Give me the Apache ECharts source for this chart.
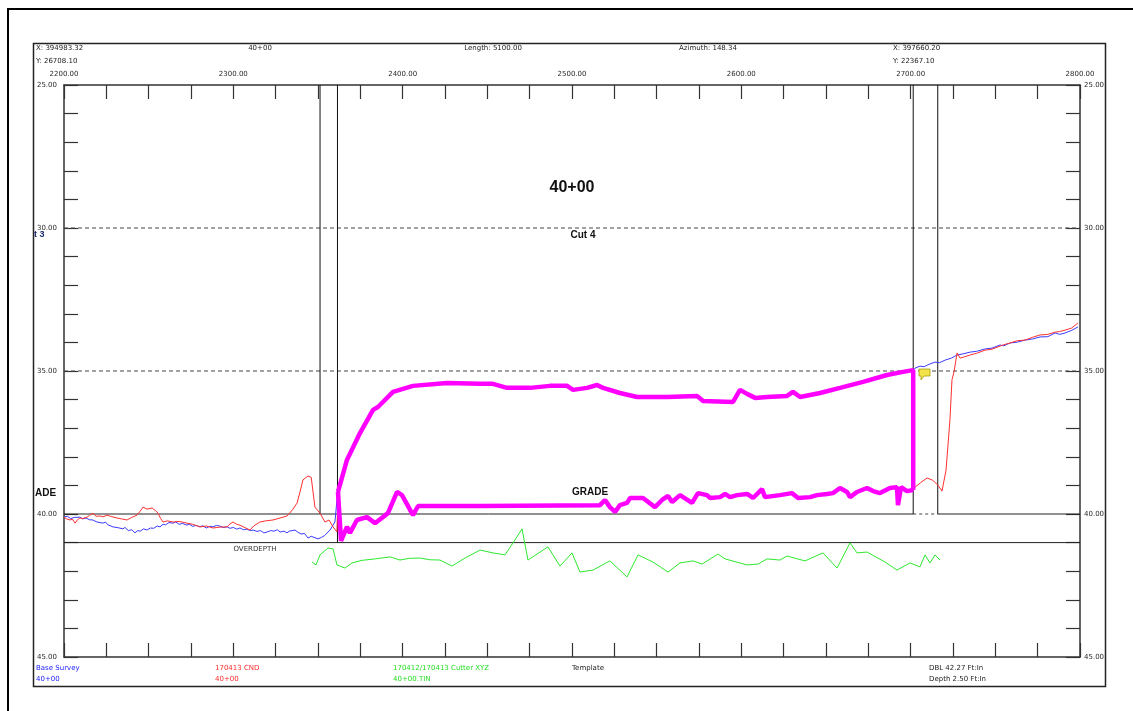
<!DOCTYPE html>
<html>
<head>
<meta charset="utf-8">
<script src="https://cdn.jsdelivr.net/npm/echarts@6/dist/echarts.min.js"></script>
<style>
html,body{margin:0;padding:0;background:#fff;}
#chart{width:1133px;height:711px;}
</style>
</head>
<body>
<div id="chart"></div>
<script>
// ---------- data (station, elevation) ----------
const baseSurveyLeft = [
  [2200,40.11],[2202,40.08],[2204,40.16],[2206,40.12],[2209.4,40.11],[2211,40.17],[2213,40.14],[2215,40.2],[2217.1,40.21],
  [2219,40.27],[2220,40.22],[2223,40.32],[2224.5,40.28],[2226,40.38],[2228.9,40.45],[2230,40.41],[2232,40.48],
  [2234.8,40.52],[2236,40.47],[2238,40.58],[2240,40.55],[2241.9,40.66],[2243.5,40.58],[2245,40.6],[2247,40.52],
  [2249,40.56],[2251,40.49],[2253,40.5],[2255,40.42],[2256.7,40.45],[2258.5,40.36],[2260,40.38],[2262,40.3],
  [2264.4,40.32],[2266,40.28],[2268,40.36],[2270,40.33],[2272.6,40.39],[2274,40.36],[2276,40.43],[2278,40.4],
  [2280.3,40.45],[2282,40.41],[2284,40.49],[2286,40.43],[2288,40.45],[2290,40.4],[2292,40.42],[2294,40.47],
  [2296.3,40.45],[2298,40.5],[2300,40.47],[2302,40.53],[2303.9,40.49],[2306,40.55],[2308,40.53],[2310,40.58],
  [2311.6,40.56],[2314,40.61],[2316,40.58],[2318,40.66],[2319.9,40.63],[2322,40.58],[2324,40.6],[2326,40.55],
  [2327.6,40.63],[2330,40.6],[2331.7,40.66],[2333,40.6],[2334,40.62],[2336.4,40.56],[2338,40.63],[2340,40.7],
  [2342,40.68],[2344.1,40.84],[2346,40.78],[2347,40.8],[2350,40.87],[2352,40.82],[2354,40.75],[2357.1,40.56],
  [2360,40.28],[2361.2,39.51]
];
const baseSurveyRight = [
  [2702.6,34.9],[2705.5,34.83],[2708,34.85],[2710,34.79],[2712,34.74],[2714.4,34.69],[2717,34.71],[2720.3,34.62],
  [2724,34.55],[2727.4,34.44],[2731,34.4],[2735.1,34.34],[2739,34.31],[2743.9,34.23],[2748,34.2],[2752.8,34.09],
  [2755,34.12],[2758.7,34.02],[2763,33.99],[2767.5,33.92],[2772,33.88],[2776.4,33.81],[2781,33.8],[2785.3,33.67],
  [2788,33.72],[2791.2,33.67],[2795,33.58],[2798.8,33.46]
];
const cndLeft = [
  [2200,40.11],[2201.5,40.17],[2203.5,40.21],[2205,40.18],[2206.5,40.32],[2208,40.2],[2209.4,40.14],[2211,40.16],
  [2213.6,40.11],[2215,40.05],[2217.1,39.97],[2219,40.08],[2221.3,40.07],[2223,40.1],[2225.4,40.04],[2228,40.09],
  [2231.3,40.14],[2234,40.17],[2237.2,40.21],[2240,40.12],[2243.1,40.04],[2245,39.9],[2246.7,39.76],[2249,39.83],
  [2252,39.79],[2254,39.88],[2255.5,39.97],[2257,40.15],[2258.5,40.28],[2261,40.24],[2264.4,40.28],[2268,40.26],
  [2272.6,40.32],[2276,40.36],[2280.3,40.45],[2284,40.42],[2288,40.49],[2292,40.46],[2296.3,40.45],[2298,40.35],
  [2299.8,40.28],[2302,40.36],[2303.9,40.39],[2307,40.48],[2309.8,40.56],[2312,40.42],[2315.7,40.28],[2319,40.24],
  [2323.4,40.21],[2327,40.15],[2331.7,40.07],[2335,39.85],[2337.6,39.62],[2339.5,39.2],[2341.1,38.81],[2344.1,38.67],
  [2346,38.72],[2347,38.74],[2348.2,39.76],[2351.2,39.97],[2354.1,40.28],[2356.5,40.21],[2358.9,40.45],[2361.2,40.63]
];
const cndRight = [
  [2702.6,39.06],[2706,38.9],[2709.7,38.74],[2713,38.82],[2716.1,38.99],[2718.5,39.2],[2720.9,38.46],[2723.2,36.71],
  [2724.4,35.31],[2725.6,35.03],[2727.4,34.37],[2729.2,34.55],[2732,34.5],[2735.1,34.44],[2739,34.38],[2743.9,34.27],
  [2748,34.24],[2752.8,34.13],[2755,34.08],[2758.7,34.02],[2763,33.94],[2767.5,33.92],[2772,33.82],[2776.4,33.74],
  [2781,33.72],[2785.3,33.64],[2788,33.62],[2791.2,33.57],[2795,33.5],[2798.8,33.32]
];
const templateTop = [
  [2361.8,39.23],[2367.1,38.11],[2374.8,37.17],[2382.5,36.36],[2385.4,36.26],[2394.3,35.73],[2406.1,35.52],
  [2426.2,35.42],[2445.7,35.45],[2453.3,35.45],[2461.6,35.59],[2475.2,35.59],[2487,35.52],[2497.1,35.52],
  [2500.6,35.66],[2508.9,35.59],[2514.8,35.49],[2518.3,35.59],[2528.3,35.77],[2538.4,35.91],[2556.1,35.91],
  [2573.8,35.87],[2577.4,36.05],[2595.1,36.08],[2599.2,35.66],[2603.4,35.8],[2608.1,35.94],[2615.2,35.91],
  [2627,35.87],[2630.5,35.73],[2634.7,35.91],[2646.5,35.77],[2658.3,35.59],[2671.9,35.38],[2686,35.14],
  [2695.5,35.03],[2701.5,34.97],[2701.5,39.16]
];
const templateGrade = [
  [2361.8,39.23],[2363.6,40.94],[2367.1,40.45],[2368.9,40.66],[2373,40.21],[2378.9,40.11],[2383.7,40.32],
  [2391.3,39.97],[2396.7,39.23],[2399.6,39.34],[2406.1,40.04],[2409.1,39.72],[2445.7,39.72],[2516.5,39.69],
  [2519.5,39.51],[2522.4,39.76],[2525.4,39.93],[2528.3,39.69],[2532.5,39.61],[2534.3,39.44],[2541.9,39.44],
  [2549,39.76],[2553.2,39.51],[2556.7,39.37],[2559.1,39.58],[2563.8,39.34],[2570.9,39.61],[2574.4,39.27],
  [2579.7,39.34],[2581.5,39.44],[2587.4,39.41],[2590.4,39.3],[2593.3,39.41],[2597.5,39.34],[2603.4,39.3],
  [2606.9,39.44],[2612.2,39.13],[2614,39.41],[2622.8,39.34],[2629.9,39.27],[2633.5,39.44],[2640.6,39.41],
  [2644.7,39.34],[2650.6,39.3],[2654.1,39.27],[2658.3,39.09],[2662.4,39.23],[2664.2,39.41],[2668.3,39.23],
  [2674.2,39.09],[2677.8,39.2],[2681.9,39.27],[2687.8,39.09],[2691.9,39.06],[2692.5,39.69],[2694.3,39.06],
  [2697.8,39.2],[2701.5,39.16]
];
const cutterXYZ = [
  [2346.5,41.68],[2348.8,41.78],[2351.2,41.43],[2355.9,41.19],[2358.9,41.22],[2361.2,41.78],[2365.9,41.89],
  [2370.1,41.71],[2376,41.62],[2383.7,41.57],[2392.5,41.5],[2398.4,41.61],[2404,41.55],[2410.2,41.54],
  [2416,41.6],[2422,41.61],[2429.1,41.82],[2436.8,41.54],[2445.7,41.26],[2453.3,41.36],[2460.4,41.43],
  [2465.2,41.01],[2470.5,40.52],[2474,41.61],[2485.8,41.15],[2492.9,41.82],[2500,41.36],[2504.7,42.03],
  [2512.4,41.96],[2522.4,41.64],[2532.5,42.2],[2539,41.43],[2547.8,41.68],[2556.7,42.03],[2563.8,41.71],
  [2571.5,41.64],[2576.8,41.75],[2586.2,41.4],[2590.4,41.57],[2603.4,41.78],[2609.9,41.75],[2615.2,41.57],
  [2622.8,41.61],[2627,41.47],[2637.6,41.64],[2648.2,41.36],[2656.5,41.89],[2664.2,41.01],[2668.3,41.36],
  [2674.2,41.33],[2684.9,41.68],[2691.9,41.96],[2699.6,41.71],[2705.5,41.85],[2708.5,41.43],[2711.4,41.71],
  [2714.4,41.43],[2717.3,41.61]
];
// section marker lines: [station, bottom elevation]
const sectionLines = [[2351.2,40],[2361.5,41],[2701.5,40],[2716,40]];
const dashedLevels = [30, 35];
const gradeLevel = 40;
const gradeSolidRanges = [[2200,2701.5],[2716,2800]];
const gradeDashedRange = [2701.5,2716];
const overdepthLevel = 41;
const stationRange = [2200, 2800];
const elevRange = [25, 45];

// ---------- chart ----------
const chart = echarts.init(document.getElementById('chart'));
const FONT = '"DejaVu Sans", Verdana, sans-serif';
const FONT_B = '"Liberation Sans", Arial, sans-serif';
const axisColor = '#333';

function lineSeries(data, color, width, type, z) {
  return { type:'line', data:data, showSymbol:false, symbol:'none', silent:true, z:z||2,
    lineStyle:{color:color, width:width, type:type||'solid'}, animation:false };
}

const series = [];
dashedLevels.forEach(v => series.push(lineSeries([[stationRange[0],v],[stationRange[1],v]], '#444', 1, [4,3], 1)));
gradeSolidRanges.forEach(r => series.push(lineSeries([[r[0],gradeLevel],[r[1],gradeLevel]], '#222', 1, 'solid', 1)));
series.push(lineSeries([[gradeDashedRange[0],gradeLevel],[gradeDashedRange[1],gradeLevel]], '#444', 1, [3,3], 1));
series.push(lineSeries([[stationRange[0],overdepthLevel],[stationRange[1],overdepthLevel]], '#222', 1, 'solid', 1));
sectionLines.forEach(s => series.push(lineSeries([[s[0],elevRange[0]],[s[0],s[1]]], '#111', 1, 'solid', 1)));

series.push(lineSeries(cutterXYZ, '#2ee82e', 1, 'solid', 3));
series.push(lineSeries([...baseSurveyLeft, ...templateTop.slice(0,-1), ...baseSurveyRight], '#3a3aff', 1, 'solid', 3));
series.push(lineSeries([...cndLeft, ...templateGrade, ...cndRight], '#ff3030', 1, 'solid', 4));
series.push(lineSeries(templateTop, '#ff00ff', 4.5, 'solid', 5));
series.push(lineSeries(templateGrade, '#ff00ff', 4.5, 'solid', 5));

const xBase = { type:'value', min:stationRange[0], max:stationRange[1], interval:25,
  axisLine:{show:true, onZero:false, lineStyle:{color:axisColor, width:1.5}},
  axisTick:{show:true, inside:true, length:14, lineStyle:{color:axisColor, width:1.2}},
  splitLine:{show:false} };
const yBase = { type:'value', min:elevRange[0], max:elevRange[1], interval:1, inverse:true,
  axisLine:{show:true, onZero:false, lineStyle:{color:axisColor, width:1.5}},
  axisTick:{show:true, inside:true, length:14, lineStyle:{color:axisColor, width:1.2}},
  splitLine:{show:false} };
const labelStyle = { fontFamily:FONT, fontSize:7, color:'#2a2a2a' };

function txt(t, x, y, opts) {
  opts = opts || {};
  return { type:'text', x:x, y:y, silent:true, z:100,
    style:{ text:t, fill:opts.color||'#222',
      font:(opts.bold?'bold ':'') + (opts.size||7) + 'px ' + (opts.bold ? FONT_B : FONT),
      align:opts.align||'left', verticalAlign:'middle',
      textAlign:opts.align||'left', textVerticalAlign:'middle' } };
}

const graphics = [
  { type:'rect', shape:{x:8, y:9, width:1200, height:800}, style:{fill:'none', stroke:'#000', lineWidth:2}, silent:true, z:0 },
  { type:'rect', shape:{x:33.5, y:43.5, width:1072, height:643}, style:{fill:'none', stroke:'#222', lineWidth:1.5}, silent:true, z:0 },
  txt('X: 394983.32', 36, 48), txt('Y: 26708.10', 36, 61),
  txt('40+00', 260, 48, {align:'center'}),
  txt('Length: 5100.00', 493, 48, {align:'center'}),
  txt('Azimuth: 148.34', 708, 48, {align:'center'}),
  txt('X: 397660.20', 893, 48), txt('Y: 22367.10', 893, 61),
  txt('40+00', 572, 188, {align:'center', bold:true, size:16, color:'#111'}),
  txt('Cut 4', 583, 235, {align:'center', bold:true, size:10, color:'#111'}),
  txt('GRADE', 590, 492, {align:'center', bold:true, size:10, color:'#111'}),
  txt('ADE', 35, 493, {bold:true, size:10, color:'#111'}),
  txt('t 3', 34, 235, {bold:true, size:9, color:'#1a2a70'}),
  txt('OVERDEPTH', 255, 549, {align:'center', color:'#333'}),
  txt('Base Survey', 36, 668, {color:'#2020ff'}), txt('40+00', 36, 679, {color:'#2020ff'}),
  txt('170413 CND', 215, 668, {color:'#ff2a2a'}), txt('40+00', 215, 679, {color:'#ff2a2a'}),
  txt('170412/170413 Cutter XYZ', 393, 668, {color:'#22dd22'}), txt('40+00.TIN', 393, 679, {color:'#22dd22'}),
  txt('Template', 572, 668, {color:'#222'}),
  txt('DBL 42.27 Ft:In', 929, 668, {color:'#222'}), txt('Depth 2.50 Ft:In', 929, 679, {color:'#222'}),
  { type:'polygon', shape:{points:[[919,369],[930,369],[930,376],[924,376],[921,380],[921,376],[919,376]]},
    style:{fill:'#f2e34a', stroke:'#a89a10', lineWidth:0.8}, silent:true, z:90 }
];

chart.setOption({
  animation:false,
  backgroundColor:'#fff',
  grid:{left:64, right:53, top:85, bottom:54, containLabel:false},
  xAxis:[
    Object.assign({}, xBase, {position:'bottom', axisLabel:{show:false}}),
    Object.assign({}, xBase, {position:'top', axisLabel:Object.assign({show:true, interval:0, margin:7,
      formatter: v => (Math.round(v) % 100 === 0 ? v.toFixed(2) : '')}, labelStyle)})
  ],
  yAxis:[
    Object.assign({}, yBase, {position:'left', axisLabel:Object.assign({show:true, interval:0, margin:7,
      formatter: v => (Math.round(v) % 5 === 0 ? v.toFixed(2) : '')}, labelStyle)}),
    Object.assign({}, yBase, {position:'right', axisLabel:Object.assign({show:true, interval:0, margin:4,
      formatter: v => (Math.round(v) % 5 === 0 ? v.toFixed(2) : '')}, labelStyle)})
  ],
  series: series,
  graphic: graphics
});
</script>
</body>
</html>
